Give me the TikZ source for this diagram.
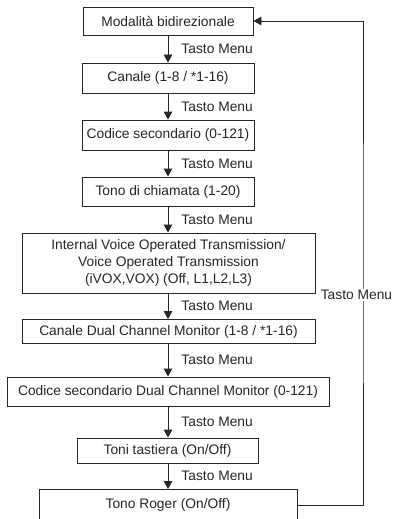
\documentclass[tikz,border=0pt]{standalone}
\usepackage{fontspec}
\setmainfont{Liberation Sans}
\usetikzlibrary{arrows.meta}
\definecolor{ink}{HTML}{262626}
\tikzset{
  box/.style={draw=ink, line width=0.9pt, text=ink, align=center, inner sep=0pt,
    font=\fontsize{13.8}{17}\selectfont},
  arr/.style={draw=ink, line width=0.9pt, -{Triangle[length=8pt,width=8.5pt]}},
  lbl/.style={text=ink, inner sep=0pt, font=\fontsize{13.8}{17}\selectfont}
}
\begin{document}
\begin{tikzpicture}[x=1pt,y=-1pt]
\path[use as bounding box, clip] (0,0) rectangle (393,519);
\fill[white] (0,0) rectangle (393,519);
\node[box, minimum width=170pt, minimum height=28pt] (n1) at (168,21) {Modalità bidirezionale};
\node[box, minimum width=172pt, minimum height=30pt] (n2) at (168,78) {Canale (1-8 / *1-16)};
\node[box, minimum width=172pt, minimum height=30pt] (n3) at (168,135) {Codice secondario (0-121)};
\node[box, minimum width=172pt, minimum height=29pt] (n4) at (168,191.5) {Tono di chiamata (1-20)};
\node[box, minimum width=293pt, minimum height=60pt] (n5) at (168.5,263) {Internal Voice Operated Transmission/\\Voice Operated Transmission\\(iVOX,VOX) (Off, L1,L2,L3)};
\node[box, minimum width=293pt, minimum height=24pt] (n6) at (168.5,331.5) {Canale Dual Channel Monitor (1-8 / *1-16)};
\node[box, minimum width=322pt, minimum height=29pt] (n7) at (168,391.5) {Codice secondario Dual Channel Monitor (0-121)};
\node[box, minimum width=181pt, minimum height=25pt] (n8) at (167.5,450.5) {Toni tastiera (On/Off)};
\node[box, minimum width=258pt, minimum height=31pt] (n9) at (168,505) {Tono Roger (On/Off)};
\foreach \a/\b in {n1/n2,n2/n3,n3/n4,n4/n5,n5/n6,n6/n7,n7/n8,n8/n9}{
  \draw[arr] (\a.south -| 168,0) -- (\b.north -| 168,0)
    node[midway, lbl, anchor=west, xshift=13pt] {Tasto Menu};
}
\coordinate (ret) at (363,263);
\draw[arr] (n9.east) -| (ret) |- (n1.east);
\node[lbl, fill=white, inner sep=1pt] (rl) at (356.5,295) {Tasto Menu};
\end{tikzpicture}
\end{document}
